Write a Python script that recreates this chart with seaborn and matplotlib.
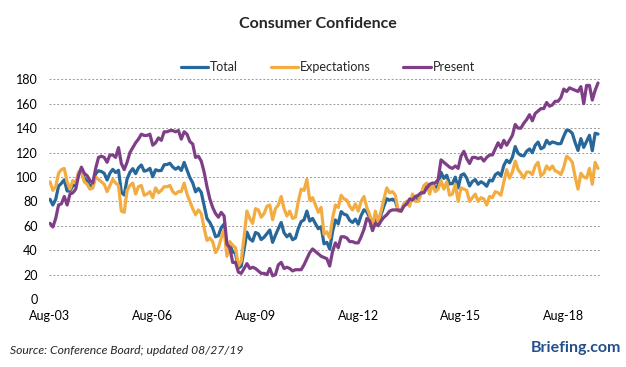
import matplotlib
matplotlib.use("Agg")
import matplotlib.pyplot as plt
import seaborn as sns
import pandas as pd
import numpy as np

# monthly readings, Aug-03 .. Aug-19
total = [81.7, 77.0, 81.7, 92.5, 94.8,
         97.7, 88.5, 88.5, 93.0, 93.1, 102.8, 105.7, 98.7, 96.7, 92.9, 92.6, 102.7,
         105.1, 104.4, 103.0, 97.5, 103.1, 106.2, 103.6, 105.5, 87.5, 85.2, 98.3, 103.8,
         106.8, 102.7, 107.5, 109.8, 104.7, 105.4, 107.0, 100.2, 105.9, 105.1, 105.3, 110.0,
         110.2, 111.2, 108.2, 106.3, 108.0, 105.3, 111.9, 105.6, 99.5, 95.2, 87.8, 90.6,
         87.3, 76.4, 65.9, 62.8, 58.1, 51.0, 51.9, 58.5, 61.4, 38.8, 44.7, 38.6,
         37.4, 25.3, 26.9, 40.8, 54.8, 49.3, 47.4, 54.5, 53.4, 48.7, 50.6, 53.6,
         56.5, 46.4, 52.3, 57.7, 62.7, 54.3, 51.0, 53.2, 48.6, 49.9, 57.8, 63.4,
         64.8, 72.0, 63.8, 66.0, 61.7, 57.6, 59.2, 45.2, 46.4, 40.9, 55.2, 64.8,
         61.5, 71.6, 69.5, 68.7, 64.4, 62.7, 65.4, 61.3, 68.4, 73.1, 71.5, 66.7,
         58.4, 68.0, 61.9, 69.0, 76.2, 82.1, 81.0, 81.8, 80.2, 72.4, 72.0, 77.5,
         79.4, 78.3, 83.9, 81.7, 82.2, 86.4, 90.3, 93.4, 89.0, 94.1, 91.0, 93.1,
         103.8, 98.8, 101.4, 94.3, 94.6, 99.8, 91.0, 101.3, 102.6, 99.1, 92.6, 96.3,
         97.8, 94.0, 96.1, 94.7, 92.4, 97.4, 96.7, 101.8, 103.5, 100.8, 109.4, 113.7,
         111.6, 116.1, 124.9, 119.4, 117.6, 117.3, 121.1, 122.9, 119.8, 125.9, 128.6, 123.1,
         124.3, 130.0, 127.0, 128.7, 128.0, 127.1, 127.4, 133.4, 138.4, 137.9, 135.7, 128.1,
         121.7, 131.4, 124.2, 129.2, 134.1, 121.5, 135.8, 135.1]

expectations = [96, 89, 92, 103, 106,
                107, 96, 90, 97, 95, 104, 104, 96, 94, 90, 91, 100,
                98, 96, 94, 88, 93, 98, 95, 93, 72, 71, 89, 93,
                95, 86, 92, 93, 85, 86, 88, 83, 91, 87, 89, 92,
                92, 93, 88, 86, 88, 88, 95, 86, 80, 74, 69, 73,
                70, 58, 48, 50, 47, 38, 42, 50, 57, 35, 47, 44,
                42, 27, 31, 51, 72, 66, 62, 74, 73, 67, 70, 76,
                77, 65, 74, 77, 84, 74, 68, 72, 66, 67, 80, 90,
                89, 98, 81, 83, 77, 71, 75, 53, 55, 50, 66, 77,
                75, 85, 82, 81, 76, 73, 78, 72, 80, 84, 75, 69,
                60, 72, 63, 72, 82, 91, 87, 88, 85, 72, 72, 78,
                80, 76, 86, 80, 80, 86, 93, 95, 86, 94, 88, 90,
                97, 90, 96, 85, 86, 94, 80, 91, 90, 89, 80, 83,
                86, 80, 83, 82, 77, 84, 83, 88, 87, 85, 96, 106,
                99, 104, 113, 106, 103, 99, 104, 104, 102, 109, 112, 101,
                103, 109, 106, 109, 105, 104, 102, 108, 117, 115, 112, 100,
                90, 103, 100, 99, 107, 94, 112, 107]

present = [62, 59, 66, 77, 78,
           84, 77, 86, 87, 90, 101, 108, 103, 101, 97, 95, 107,
           116, 117, 116, 112, 118, 118, 116, 124, 111, 106, 112, 120,
           124, 128, 131, 135, 134, 134, 135, 126, 128, 132, 130, 137,
           137, 138, 138, 137, 138, 131, 137, 135, 129, 127, 116, 117,
           113, 104, 92, 82, 75, 70, 67, 71, 68, 45, 42, 30,
           30, 22, 21, 25, 29, 25, 26, 25, 23, 21, 21, 20,
           25, 19, 20, 28, 30, 25, 26, 25, 23, 24, 24, 24,
           28, 33, 38, 41, 39, 37, 35, 34, 33, 27, 39, 46,
           42, 51, 51, 50, 47, 47, 46, 46, 51, 57, 66, 64,
           56, 62, 60, 64, 67, 69, 72, 73, 73, 73, 72, 76,
           78, 82, 81, 84, 85, 87, 87, 91, 94, 95, 95, 98,
           114, 112, 110, 108, 107, 109, 107, 117, 121, 115, 111, 116,
           116, 115, 116, 113, 116, 118, 118, 123, 128, 124, 130, 126,
           130, 134, 143, 140, 140, 144, 147, 151, 146, 152, 154, 156,
           156, 161, 158, 159, 162, 162, 165, 172, 170, 173, 172, 171,
           170, 174, 160, 175, 175, 163, 171, 177]

series_names = ["Total", "Expectations", "Present"]
colors = {"Total": "#27679a", "Expectations": "#f2ac42", "Present": "#7f3f87"}

dates = pd.date_range("2003-08-01", periods=len(total), freq="MS")
df = pd.DataFrame({"t": np.arange(len(total)), "Total": total,
                   "Expectations": expectations, "Present": present})
long_df = df.melt(id_vars="t", value_vars=series_names, var_name="series", value_name="value")

sns.set_theme(style="white")
plt.rcParams["font.family"] = ["Lato", "DejaVu Sans"]

fig = plt.figure(figsize=(6.26, 3.67), dpi=100)
ax = fig.add_axes([49 / 626, 68 / 367, 551 / 626, 219.7 / 367])

sns.lineplot(data=long_df, x="t", y="value", hue="series", hue_order=series_names,
             palette=colors, linewidth=2.3, ax=ax, legend=True)

ax.set_ylim(0, 180)
ax.set_yticks(range(0, 181, 20))
ax.set_xlim(-0.35, 192.7)
# a label every three years, starting at the first month
tick_idx = [i for i, d in enumerate(dates) if d.month == 8 and (d.year - 2003) % 3 == 0]
ax.set_xticks(tick_idx)
ax.set_xticklabels([dates[i].strftime("%b-%y") for i in tick_idx])
ax.set_xlabel("")
ax.set_ylabel("")
ax.tick_params(axis="both", length=0, labelsize=9, colors="black")
ax.tick_params(axis="y", pad=8)
ax.tick_params(axis="x", pad=8)
ax.yaxis.grid(True, linestyle=(0, (2, 2)), color="#9a9a9a", linewidth=0.7)
ax.xaxis.grid(False)
for s in ax.spines.values():
    s.set_visible(False)

handles, labels = ax.get_legend_handles_labels()
ax.get_legend().remove()
fig.legend(handles, labels, loc="center", bbox_to_anchor=(328 / 626, 1 - 67 / 367),
           ncol=3, frameon=False, handlelength=2.2, handletextpad=0.15,
           columnspacing=2.6, prop={"size": 9})

fig.text(318 / 626, 1 - 24 / 367, "Consumer Confidence", ha="center", va="center",
         fontsize=11.5, fontweight="bold")
fig.text(10 / 626, 1 - 350 / 367, "Source: Conference Board; updated 08/27/19",
         ha="left", va="center", fontsize=8.7, style="italic")
fig.text(621 / 626, 1 - 348 / 367, "Briefing.com", ha="right", va="center",
         fontsize=11.5, fontweight="bold", color="#24508a")

fig.savefig("out.png", dpi=100)
